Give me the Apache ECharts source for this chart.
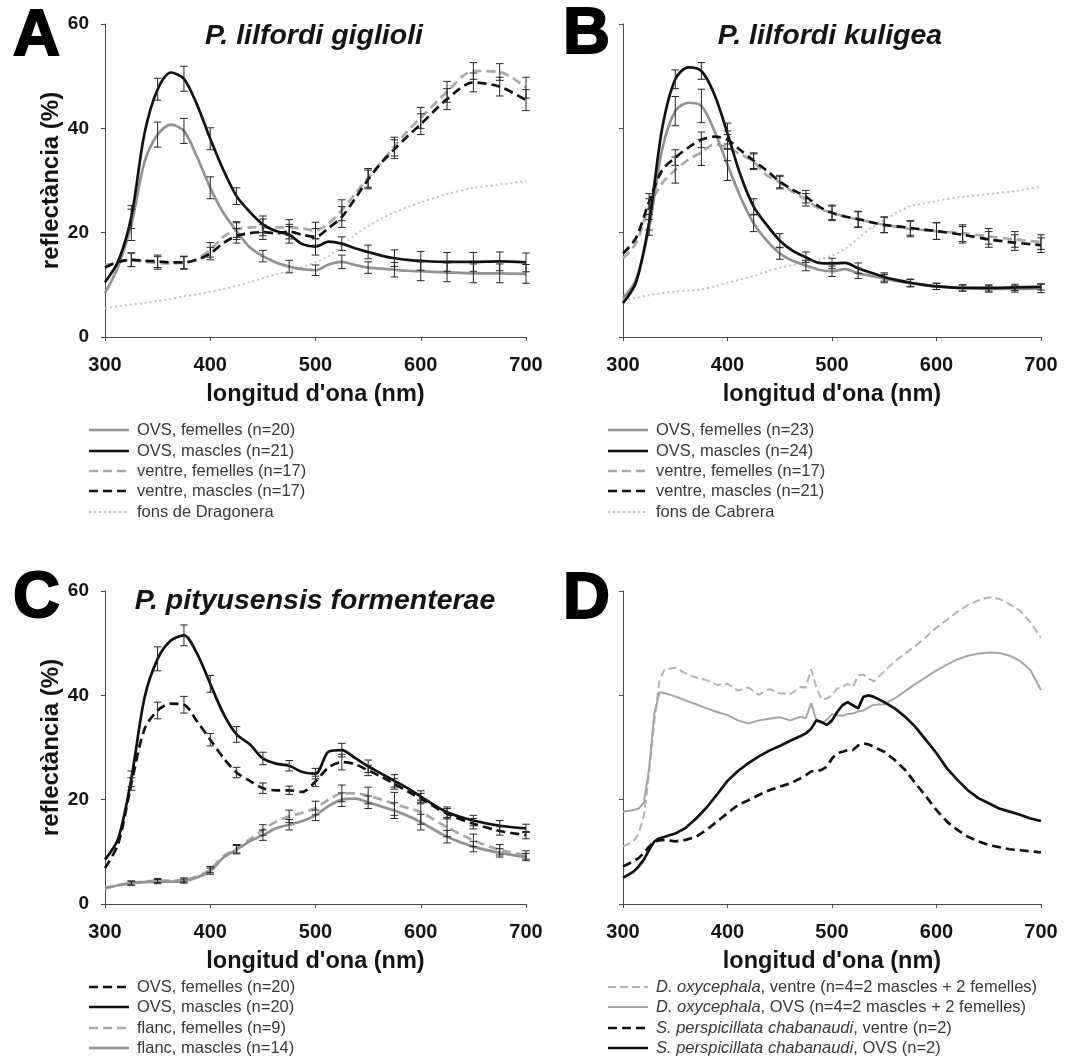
<!DOCTYPE html>
<html>
<head>
<meta charset="utf-8">
<script src="https://cdn.jsdelivr.net/npm/echarts@6/dist/echarts.min.js"></script>
<style>
  html, body { margin: 0; padding: 0; background: #ffffff; }
  #chart { width: 1084px; height: 1060px; }
</style>
</head>
<body>
<div id="chart"></div>
<script>
// ---- Wavelength grids (nm) ----
const WL = [300, 312.5, 325, 337.5, 350, 362.5, 375, 387.5, 400, 412.5, 425, 437.5, 450, 462.5, 475,
            487.5, 500, 512.5, 525, 537.5, 550, 562.5, 575, 587.5, 600, 625, 650, 675, 700];
const ERR_WL = [325, 350, 375, 400, 425, 450, 475, 500, 525, 550, 575, 600, 625, 650, 675, 700];
const WL_D = [300, 310, 315, 320, 325, 330, 335, 340, 350, 360, 370, 380, 390, 400, 410, 420, 430, 440,
              450, 460, 470, 475, 480, 485, 490, 495, 500, 505, 510, 515, 520, 525, 530, 535, 540, 550,
              560, 570, 580, 590, 600, 610, 620, 630, 640, 650, 660, 670, 680, 690, 700];

// ---- Panel A: P. lilfordi giglioli (reflectance %) ----
const A_OVS_F = [8.4, 13.5, 21.5, 33.5, 38.8, 40.7, 39.5, 34.5, 28.6, 23.8, 20.3, 17.2, 15.5, 14.3, 13.5,
                 13, 12.8, 13.9, 14.4, 13.8, 13.3, 13.1, 12.9, 12.7, 12.6, 12.4, 12.2, 12.2, 12.1];
const A_OVS_M = [10.5, 14.5, 23, 39, 47.5, 50.7, 49.5, 44.5, 38, 32, 27, 24, 21.6, 20.3, 19.6,
                 17.8, 17.3, 18.3, 17.9, 17, 16.3, 15.6, 15.1, 14.8, 14.6, 14.4, 14.4, 14.5, 14.3];
const A_VEN_F = [13.8, 14.3, 14.8, 14.4, 14.2, 14.1, 14.2, 15, 16.7, 19.2, 20.6, 21, 21, 21, 21,
                 20.8, 20.4, 21.8, 24.3, 27.4, 30.5, 33.5, 36.5, 39.5, 42, 47, 51, 50.8, 47.8];
const A_VEN_M = [13.3, 14.4, 14.8, 14.6, 14.5, 14.3, 14.3, 14.8, 16, 18, 19.4, 19.9, 20.1, 19.9, 20.2,
                 19.6, 19.2, 20.9, 23, 26.5, 30.2, 33.4, 36, 38.5, 40.8, 45.6, 48.8, 48, 45.4];
const A_FONS = [5.5, 5.9, 6.2, 6.5, 6.9, 7.3, 7.8, 8.2, 8.7, 9.2, 9.8, 10.5, 11.3, 12, 12.6,
                13.4, 14.3, 15.5, 17.5, 19.5, 21.3, 22.7, 23.9, 24.9, 25.8, 27.4, 28.6, 29.2, 29.9];
const A_ERR_OVS_F = [3, 2.4, 2.4, 2.1, 1.6, 1.1, 1.2, 1, 1.3, 1.1, 1.4, 1.8, 1.8, 1.8, 1.8, 1.8];
const A_ERR_OVS_M = [2.2, 2.1, 2.4, 2.1, 1.6, 1.6, 1.6, 1.6, 1.3, 1.3, 1.6, 1.8, 1.8, 1.8, 1.8, 1.8];
const A_ERR_VEN_F = [1.3, 1.2, 1.2, 1.4, 1.5, 1.6, 1.5, 1.6, 2, 1.8, 1.8, 2, 2, 1.6, 1.6, 2];
const A_ERR_VEN_M = [1.3, 1.2, 1.2, 1.2, 1.4, 1.4, 1.4, 1.6, 2, 1.8, 1.8, 2, 2, 1.8, 1.8, 2];

// ---- Panel B: P. lilfordi kuligea ----
const B_OVS_F = [7.5, 11, 21, 36, 43.3, 44.9, 44.3, 39.5, 33, 26.8, 21.8, 18.5, 16, 14.6, 13.7,
                 12.9, 12.6, 13, 12.2, 11.7, 11.2, 10.7, 10.3, 10, 9.7, 9.4, 9.2, 9.2, 9.3];
const B_OVS_M = [6.5, 10.5, 22, 40, 49.4, 51.7, 51, 46.5, 39, 31, 25, 21.5, 18.5, 16.5, 15.3,
                 14.2, 14.1, 14.2, 13.2, 12.3, 11.5, 10.9, 10.4, 10, 9.7, 9.4, 9.4, 9.5, 9.6];
const B_VEN_F = [15.1, 18, 25, 29.5, 32, 34, 35.4, 36.9, 36.3, 35, 33.6, 31, 29.6, 27.8, 26.3,
                 24.6, 23.8, 23.1, 22.5, 22, 21.5, 21.1, 20.7, 20.5, 20.3, 19.9, 19.3, 18.7, 18.2];
const B_VEN_M = [16, 19, 26, 32, 34.4, 36.3, 37.8, 38.4, 37.8, 35.8, 33.8, 31.9, 29.8, 28.2, 26.9,
                 25, 23.8, 23.1, 22.6, 22, 21.5, 21.2, 20.9, 20.6, 20.3, 19.6, 18.7, 18.1, 17.6];
const B_FONS = [7.1, 7.5, 8, 8.4, 8.7, 8.9, 9.1, 9.7, 10.4, 11, 11.7, 12.5, 13.3, 13.8, 14.3,
                14.9, 15.6, 16.9, 18.9, 20.9, 22.4, 23.9, 25.1, 25.6, 26.1, 26.9, 27.4, 28, 28.8];
const B_ERR_OVS_F = [1.5, 2.8, 3.2, 3, 1.6, 1.1, 1, 1, 1, 0.8, 0.7, 0.6, 0.6, 0.6, 0.6, 0.8];
const B_ERR_OVS_M = [1.5, 1.8, 1.6, 2, 1.5, 1.3, 1, 1, 1, 0.8, 0.7, 0.6, 0.6, 0.6, 0.6, 0.6];
const B_ERR_VEN_F = [1.5, 2.5, 2.5, 2.5, 1.5, 1.2, 1.2, 1.3, 1.5, 1.5, 1.5, 1.6, 1.6, 1.5, 1.5, 1.4];
const B_ERR_VEN_M = [1.5, 1.5, 1.5, 1.7, 1.5, 1.2, 1.2, 1.5, 1.5, 1.5, 1.4, 1.6, 1.6, 1.5, 1.5, 1.4];

// ---- Panel C: P. pityusensis formenterae ----
const C_OVS_F = [6.9, 11.5, 23, 33.5, 37.1, 38.4, 38.2, 35, 31.5, 28, 25.2, 23.6, 22.2, 21.8, 21.8,
                 21.5, 23.5, 26.2, 27.2, 26.8, 25.6, 24.4, 23, 21.6, 20.2, 17.3, 15.4, 14, 13.2];
const C_OVS_M = [8.5, 12.5, 24, 39.5, 47, 50.5, 51.5, 48, 42.2, 36.5, 32.5, 30.6, 27.9, 26.9, 26.5,
                 25.3, 25, 29.2, 29.5, 28, 26.4, 25, 23.6, 22.2, 20.6, 17.6, 16, 15, 14.5];
const C_FLA_F = [3.1, 3.6, 4, 4.3, 4.5, 4.5, 4.6, 5.3, 6.6, 9.2, 10.6, 12.4, 14.2, 15.8, 16.8,
                 17.5, 18.4, 20, 21.2, 21.2, 20.8, 20, 19.2, 18.4, 17.6, 14.7, 12.2, 10.4, 9.4];
const C_FLA_M = [3, 3.6, 4, 4.2, 4.3, 4.3, 4.4, 5.1, 6.3, 8.9, 10.4, 12, 13.2, 14.5, 15.2,
                 15.9, 17, 18.8, 20, 20.2, 19.5, 18.7, 17.9, 16.9, 15.7, 12.9, 11, 9.8, 9];
const C_ERR_OVS_F = [1.2, 1.6, 1.6, 1.2, 1, 1, 0.8, 1, 1.5, 1, 1, 1, 1, 1, 0.8, 0.7];
const C_ERR_OVS_M = [1.5, 2.3, 2, 1.6, 1.5, 1.2, 1, 1, 1.3, 1.2, 1.2, 1.1, 1, 1, 1, 0.8];
const C_ERR_FLA_F = [0.4, 0.4, 0.4, 0.6, 0.8, 1, 1.2, 1.3, 1.6, 1.6, 2.2, 2.3, 1.8, 1.2, 1, 0.8];
const C_ERR_FLA_M = [0.4, 0.4, 0.4, 0.6, 0.8, 1, 1, 1, 1.3, 1.2, 1.5, 1.5, 1.2, 1, 0.8, 0.7];

// ---- Panel D: D. oxycephala and S. perspicillata chabanaudi ----
const D_DOXY_VEN = [11, 12, 13.5, 17, 25, 35, 43, 45, 45.3, 44.2, 43.4, 42.9, 42, 42.2, 40.9, 41.5, 40.1, 41.2,
                    40.4, 40.2, 41.6, 41.5, 45, 41.6, 39.2, 39.4, 40, 41.3, 41.6, 42.2, 41.6, 43.8, 44, 43.2, 42.7, 44.6,
                    46.5, 48, 49.5, 51.2, 53, 54.5, 56, 57.3, 58.2, 58.8, 58.5, 57.5, 56.2, 54, 51];
const D_DOXY_OVS = [17.7, 18, 18.3, 19.5, 26, 36.5, 40.6, 40.4, 39.8, 39, 38.3, 37.5, 36.8, 36.2, 35.2, 34.6, 35.2, 35.5,
                    35.8, 35.2, 35.9, 35.6, 38.5, 35.2, 34.6, 35.3, 36.4, 36.2, 36.1, 36.4, 36.5, 36.9, 37.1, 37.7, 38.2, 38.3,
                    39.4, 40.8, 42.2, 43.5, 44.8, 45.9, 46.9, 47.6, 48, 48.2, 48.1, 47.6, 46.6, 44.8, 41];
const D_SPER_VEN = [7.2, 8.2, 8.8, 9.8, 11, 12, 12.2, 12.3, 12, 12.3, 12.9, 14.2, 15.8, 17.4, 19, 19.9, 20.9, 21.8,
                    22.5, 23.1, 24.1, 24.7, 25.4, 25.5, 25.7, 26.3, 27.9, 28.9, 29.2, 29.5, 29.5, 30.4, 30.8, 30.6, 30.1, 29.2,
                    27.6, 25.7, 23.1, 20.6, 18, 15.8, 14.2, 12.9, 12, 11.3, 10.9, 10.5, 10.3, 10.1, 9.9];
const D_SPER_OVS = [5, 6.2, 7.2, 8.5, 10.4, 12, 12.6, 12.9, 13.5, 14.6, 16.4, 18.5, 21, 23.6, 25.5, 27, 28.3, 29.4,
                    30.3, 31.3, 32.2, 32.7, 33.6, 35.2, 34.9, 34.3, 35.2, 36.8, 38.1, 38.7, 38.1, 37.5, 39.7, 40, 39.7, 38.7,
                    37.5, 35.9, 33.9, 31.4, 28.9, 26, 23.8, 21.8, 20.3, 19.3, 18.3, 17.7, 17.1, 16.4, 15.9];

// ---- Texts ----
const Y_TICKS = [0, 20, 40, 60];
const X_TITLE = "longitud d'ona (nm)";
const Y_TITLE = 'reflectància (%)';
const TITLES = ['P. lilfordi giglioli', 'P. lilfordi kuligea', 'P. pityusensis formenterae'];
const LETTERS = ['A', 'B', 'C', 'D'];
const LEG_A = ['OVS, femelles (n=20)', 'OVS, mascles (n=21)', 'ventre, femelles (n=17)', 'ventre, mascles (n=17)', 'fons de Dragonera'];
const LEG_B = ['OVS, femelles (n=23)', 'OVS, mascles (n=24)', 'ventre, femelles (n=17)', 'ventre, mascles (n=21)', 'fons de Cabrera'];
const LEG_C = ['OVS, femelles (n=20)', 'OVS, mascles (n=20)', 'flanc, femelles (n=9)', 'flanc, mascles (n=14)'];
const LEG_D = ['{i|D. oxycephala}, ventre (n=4=2 mascles + 2 femelles)',
               '{i|D. oxycephala}, OVS (n=4=2 mascles + 2 femelles)',
               '{i|S. perspicillata chabanaudi}, ventre (n=2)',
               '{i|S. perspicillata chabanaudi}, OVS (n=2)'];

// ---- Styling ----
const FONT = 'Liberation Sans, Arial, Helvetica, sans-serif';
const INK = '#141414';
const STY = {
  blackSolid: { color: '#111111', width: 2.7, type: 'solid' },
  blackDash:  { color: '#111111', width: 2.7, type: [9, 5] },
  graySolid:  { color: '#929292', width: 2.7, type: 'solid' },
  grayDash:   { color: '#a9a9a9', width: 2.7, type: [9, 5] },
  dotted:     { color: '#c2c2c2', width: 2, type: [2, 3] },
  dGraySolid: { color: '#a6a6a6', width: 2, type: 'solid' },
  dGrayDash:  { color: '#b4b4b4', width: 2, type: [8, 4] }
};

const GRIDS = [
  { left: 105, top: 24, width: 421, height: 313 },
  { left: 623, top: 24, width: 418, height: 313 },
  { left: 105, top: 591, width: 421, height: 313 },
  { left: 623, top: 591, width: 418, height: 313 }
];

function xAxisCfg(gi) {
  return {
    type: 'value', gridIndex: gi, min: 300, max: 700, interval: 100,
    axisLine: { show: true, onZero: false, lineStyle: { color: '#4a4a4a', width: 1 } },
    axisTick: { show: true, length: 4, lineStyle: { color: '#4a4a4a' } },
    axisLabel: { fontSize: 20, fontWeight: 'bold', color: INK, margin: 18, fontFamily: FONT },
    splitLine: { show: false },
    name: X_TITLE, nameLocation: 'middle', nameGap: 46,
    nameTextStyle: { fontSize: 23.5, fontWeight: 'bold', color: INK, fontFamily: FONT }
  };
}
function yAxisCfg(gi, labelled) {
  return {
    type: 'value', gridIndex: gi, min: Y_TICKS[0], max: Y_TICKS[Y_TICKS.length - 1], interval: 20,
    axisLine: { show: true, onZero: false, lineStyle: { color: '#4a4a4a', width: 1 } },
    axisTick: { show: true, length: 4, lineStyle: { color: '#4a4a4a' } },
    axisLabel: { show: labelled, fontSize: 19, fontWeight: 'bold', color: INK, margin: 16, fontFamily: FONT },
    splitLine: { show: false },
    name: labelled ? Y_TITLE : '', nameLocation: 'middle', nameGap: 42, nameRotate: 90,
    nameTextStyle: { fontSize: 24, fontWeight: 'bold', color: INK, fontFamily: FONT }
  };
}

function lineSeries(gi, xs, vals, st, z, smooth) {
  return {
    type: 'line', xAxisIndex: gi, yAxisIndex: gi, z: z,
    data: xs.map((w, i) => [w, vals[i]]),
    symbol: 'none', showSymbol: false, smooth: smooth, silent: true,
    lineStyle: { color: st.color, width: st.width, type: st.type, cap: 'butt' }
  };
}

function renderErr(params, api) {
  const w = api.value(0), c = api.value(1), e = api.value(2);
  const lo = api.coord([w, c - e]);
  const hi = api.coord([w, c + e]);
  const cap = 3.8;
  const st = { stroke: '#262626', lineWidth: 1 };
  return {
    type: 'group',
    children: [
      { type: 'line', shape: { x1: lo[0], y1: lo[1], x2: hi[0], y2: hi[1] }, style: st },
      { type: 'line', shape: { x1: lo[0] - cap, y1: lo[1], x2: lo[0] + cap, y2: lo[1] }, style: st },
      { type: 'line', shape: { x1: hi[0] - cap, y1: hi[1], x2: hi[0] + cap, y2: hi[1] }, style: st }
    ]
  };
}
function errSeries(gi, pairs) {
  const data = [];
  pairs.forEach(([vals, errs]) => {
    ERR_WL.forEach((w, k) => { data.push([w, vals[WL.indexOf(w)], errs[k]]); });
  });
  return {
    type: 'custom', xAxisIndex: gi, yAxisIndex: gi, z: 10, silent: true,
    renderItem: renderErr, data: data, encode: { x: 0, y: 1 }
  };
}

const series = [
  // A
  lineSeries(0, WL, A_FONS, STY.dotted, 2, 0.3),
  lineSeries(0, WL, A_VEN_F, STY.grayDash, 3, 0.3),
  lineSeries(0, WL, A_OVS_F, STY.graySolid, 4, 0.3),
  lineSeries(0, WL, A_VEN_M, STY.blackDash, 5, 0.3),
  lineSeries(0, WL, A_OVS_M, STY.blackSolid, 6, 0.3),
  errSeries(0, [[A_OVS_F, A_ERR_OVS_F], [A_OVS_M, A_ERR_OVS_M], [A_VEN_F, A_ERR_VEN_F], [A_VEN_M, A_ERR_VEN_M]]),
  // B
  lineSeries(1, WL, B_FONS, STY.dotted, 2, 0.3),
  lineSeries(1, WL, B_VEN_F, STY.grayDash, 3, 0.3),
  lineSeries(1, WL, B_OVS_F, STY.graySolid, 4, 0.3),
  lineSeries(1, WL, B_VEN_M, STY.blackDash, 5, 0.3),
  lineSeries(1, WL, B_OVS_M, STY.blackSolid, 6, 0.3),
  errSeries(1, [[B_OVS_F, B_ERR_OVS_F], [B_OVS_M, B_ERR_OVS_M], [B_VEN_F, B_ERR_VEN_F], [B_VEN_M, B_ERR_VEN_M]]),
  // C
  lineSeries(2, WL, C_FLA_F, STY.grayDash, 3, 0.3),
  lineSeries(2, WL, C_FLA_M, STY.graySolid, 4, 0.3),
  lineSeries(2, WL, C_OVS_F, STY.blackDash, 5, 0.3),
  lineSeries(2, WL, C_OVS_M, STY.blackSolid, 6, 0.3),
  errSeries(2, [[C_OVS_F, C_ERR_OVS_F], [C_OVS_M, C_ERR_OVS_M], [C_FLA_F, C_ERR_FLA_F], [C_FLA_M, C_ERR_FLA_M]]),
  // D
  lineSeries(3, WL_D, D_DOXY_VEN, STY.dGrayDash, 3, false),
  lineSeries(3, WL_D, D_DOXY_OVS, STY.dGraySolid, 4, false),
  lineSeries(3, WL_D, D_SPER_VEN, STY.blackDash, 5, false),
  lineSeries(3, WL_D, D_SPER_OVS, STY.blackSolid, 6, false)
];

// ---- Panel letters, titles and legends ----
const graphics = [];
function addText(x, y, text, opts) {
  graphics.push({
    type: 'text', x: x, y: y, silent: true, z: 50,
    style: Object.assign({
      text: text, fill: INK, fontFamily: FONT,
      align: 'left', verticalAlign: 'middle', textAlign: 'left', textVerticalAlign: 'middle'
    }, opts)
  });
}
const LETTER_POS = [[13, 37], [563, 35], [13, 599], [563, 600]];
LETTERS.forEach((L, i) => addText(LETTER_POS[i][0], LETTER_POS[i][1], L,
  { fontSize: 65, fontWeight: 'bold', fill: '#000', stroke: '#000', lineWidth: 2 }));
const TITLE_POS = [[314, 36], [830, 36], [315, 601]];
TITLES.forEach((t, i) => addText(TITLE_POS[i][0], TITLE_POS[i][1], t,
  { fontSize: 28.5, fontWeight: 'bold', fontStyle: 'italic', align: 'center', textAlign: 'center' }));

function addLegend(x0, rows, labels, styles) {
  labels.forEach((lab, i) => {
    const st = styles[i];
    const y = rows[i];
    graphics.push({
      type: 'line', silent: true, z: 50,
      shape: { x1: x0, y1: y, x2: x0 + 40, y2: y },
      style: { stroke: st.color, lineWidth: st.width, lineDash: Array.isArray(st.type) ? st.type : null }
    });
    addText(x0 + 48, y, lab, {
      fontSize: 16.5, fill: '#383838',
      rich: { i: { fontStyle: 'italic', fontSize: 16.5, fontFamily: FONT, fill: '#383838' } }
    });
  });
}
const ROWS_TOP = [430, 451, 471, 491, 512];
const ROWS_BOT = [987, 1007, 1028, 1048];
addLegend(89, ROWS_TOP, LEG_A, [STY.graySolid, STY.blackSolid, STY.grayDash, STY.blackDash, STY.dotted]);
addLegend(608, ROWS_TOP, LEG_B, [STY.graySolid, STY.blackSolid, STY.grayDash, STY.blackDash, STY.dotted]);
addLegend(89, ROWS_BOT, LEG_C, [STY.blackDash, STY.blackSolid, STY.grayDash, STY.graySolid]);
addLegend(608, ROWS_BOT, LEG_D, [STY.dGrayDash, STY.dGraySolid, STY.blackDash, STY.blackSolid]);

const chart = echarts.init(document.getElementById('chart'), null, { renderer: 'canvas' });
chart.setOption({
  animation: false,
  backgroundColor: '#ffffff',
  grid: GRIDS.map(g => Object.assign({ containLabel: false }, g)),
  xAxis: [0, 1, 2, 3].map(xAxisCfg),
  yAxis: [yAxisCfg(0, true), yAxisCfg(1, false), yAxisCfg(2, true), yAxisCfg(3, false)],
  series: series,
  graphic: { elements: graphics }
});
</script>
</body>
</html>
